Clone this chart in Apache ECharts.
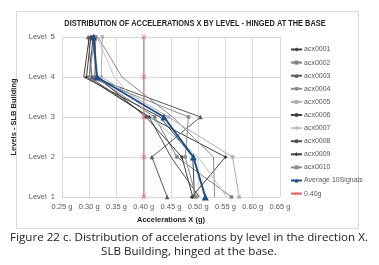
<!DOCTYPE html>
<html>
<head>
<meta charset="utf-8">
<script src="https://cdn.jsdelivr.net/npm/echarts@6/dist/echarts.min.js"></script>
<style>
html, body { margin: 0; padding: 0; background: #fff; }
#main { width: 379px; height: 265px; }
</style>
</head>
<body>
<div id="main"></div>
<script>
// levels, bottom to top
var levels = [1, 2, 3, 4, 5];

// x ticks
var x_ticks = [0.25, 0.30, 0.35, 0.40, 0.45, 0.50, 0.55, 0.60, 0.65];

// accelerations per signal, Level 1 .. Level 5
var acx0001 = [0.488, 0.550, 0.410, 0.295, 0.303];
var acx0002 = [0.561, 0.461, 0.420, 0.310, 0.312];
var acx0003 = [0.443, 0.415, 0.504, 0.305, 0.298];
var acx0004 = [0.530, 0.528, 0.453, 0.360, 0.316];
var acx0005 = [0.575, 0.563, 0.445, 0.322, 0.324];
var acx0006 = [0.493, 0.490, 0.430, 0.290, 0.300];
var acx0007 = [0.552, 0.500, 0.412, 0.346, 0.314];
var acx0008 = [0.502, 0.450, 0.410, 0.300, 0.307];
var acx0009 = [0.490, 0.470, 0.404, 0.315, 0.305];
var acx0010 = [0.496, 0.476, 0.482, 0.300, 0.310];
var average = [0.513, 0.491, 0.437, 0.314, 0.308];
var limit_040 = [0.40, 0.40, 0.40, 0.40, 0.40];

var crossPath = 'path://M0,1 L1,0 L5,4 L9,0 L10,1 L6,5 L10,9 L9,10 L5,6 L1,10 L0,9 L4,5 Z';

function toPairs(vals) {
	var out = [];
	for (var i = 0; i < vals.length; i++) {
		out.push([vals[i], levels[i]]);
	}
	return out;
}

// 单条灰色信号线
function signal(name, vals, color, symbol, size) {
	return {
		name: name,
		type: 'line',
		data: toPairs(vals),
		symbol: symbol,
		symbolSize: size,
		showSymbol: symbol !== 'none',
		lineStyle: { color: color, width: 1 },
		itemStyle: { color: color },
		z: 2
	};
}

var series = [
	signal('acx0001', acx0001, '#404040', 'diamond', 4),
	signal('acx0002', acx0002, '#7f7f7f', 'rect', 3.5),
	signal('acx0003', acx0003, '#595959', 'triangle', 4.5),
	signal('acx0004', acx0004, '#8c8c8c', 'none', 0),
	signal('acx0005', acx0005, '#b0b0b0', 'rect', 3.5),
	signal('acx0006', acx0006, '#404040', 'none', 0),
	signal('acx0007', acx0007, '#c4c4c4', 'none', 0),
	signal('acx0008', acx0008, '#505050', 'none', 0),
	signal('acx0009', acx0009, '#404040', 'diamond', 4),
	signal('acx0010', acx0010, '#8c8c8c', 'rect', 3.5),
	{
		name: 'Average 10Signals',
		type: 'line',
		data: toPairs(average),
		symbol: 'triangle',
		symbolSize: 7,
		lineStyle: { color: '#1f4e8c', width: 2 },
		itemStyle: { color: '#1f4e8c' },
		z: 5
	},
	{
		name: '0.40g',
		type: 'line',
		data: toPairs(limit_040),
		symbol: crossPath,
		symbolSize: 5,
		lineStyle: { color: '#e46464', width: 1 },
		itemStyle: { color: '#e46464' },
		z: 4
	}
];

var myChart = echarts.init(document.getElementById('main'));

var option = {
	animation: false,
	backgroundColor: '#ffffff',
	textStyle: { fontFamily: 'Liberation Sans, Arial, sans-serif' },
	graphic: [{
		type: 'rect',
		shape: { x: 16.5, y: 11.5, width: 342, height: 217 },
		style: { fill: 'none', stroke: '#d9d9d9', lineWidth: 1 },
		silent: true
	}, {
		// 图表标题 (窄体)
		type: 'text',
		x: 195,
		y: 24,
		scaleX: 0.86,
		style: {
			text: 'DISTRIBUTION OF ACCELERATIONS X BY LEVEL - HINGED AT THE BASE',
			font: 'bold 8.6px Liberation Sans, Arial, sans-serif',
			fill: '#262626',
			align: 'center',
			verticalAlign: 'middle'
		},
		silent: true
	}, {
		// 图注
		type: 'text',
		x: 189,
		y: 238,
		style: {
			text: 'Figure 22 c. Distribution of accelerations by level in the direction X.',
			font: '11.6px Open Sans, Lato, sans-serif',
			fill: '#222222',
			align: 'center',
			verticalAlign: 'middle'
		},
		silent: true
	}, {
		type: 'text',
		x: 189,
		y: 252,
		style: {
			text: 'SLB Building, hinged at the base.',
			font: '11.6px Open Sans, Lato, sans-serif',
			fill: '#222222',
			align: 'center',
			verticalAlign: 'middle'
		},
		silent: true
	}],
	legend: {
		orient: 'vertical',
		left: 285,
		top: 41,
		itemWidth: 11,
		itemHeight: 5,
		itemGap: 6.1,
		textStyle: { fontSize: 7, color: '#595959', padding: [0, 0, 0, -3] },
		data: series.map(function(s) { return s.name; })
	},
	grid: {
		left: 62,
		right: 99,
		top: 37,
		bottom: 68
	},
	xAxis: {
		type: 'value',
		min: 0.25,
		max: 0.65,
		interval: 0.05,
		name: 'Accelerations X (g)',
		nameLocation: 'middle',
		nameGap: 15,
		nameTextStyle: { fontSize: 7.5, fontWeight: 'bold', color: '#262626' },
		axisLine: { show: false },
		axisTick: { show: false },
		axisLabel: {
			fontSize: 7.5,
			color: '#595959',
			margin: 6,
			formatter: function(v) { return v.toFixed(2) + ' g'; }
		},
		splitLine: { show: true, lineStyle: { color: '#d9d9d9', width: 1 } }
	},
	yAxis: {
		type: 'value',
		min: 1,
		max: 5,
		interval: 1,
		name: 'Levels - SLB Building',
		nameLocation: 'middle',
		nameGap: 37,
		nameRotate: 90,
		nameTextStyle: { fontSize: 7.5, fontWeight: 'bold', color: '#262626' },
		axisLine: { show: false },
		axisTick: { show: false },
		axisLabel: {
			fontSize: 7.5,
			color: '#595959',
			margin: 7,
			formatter: function(v) { return 'Level  ' + v; }
		},
		splitLine: { show: true, lineStyle: { color: '#d9d9d9', width: 1 } }
	},
	series: series
};

myChart.setOption(option);
</script>
</body>
</html>
